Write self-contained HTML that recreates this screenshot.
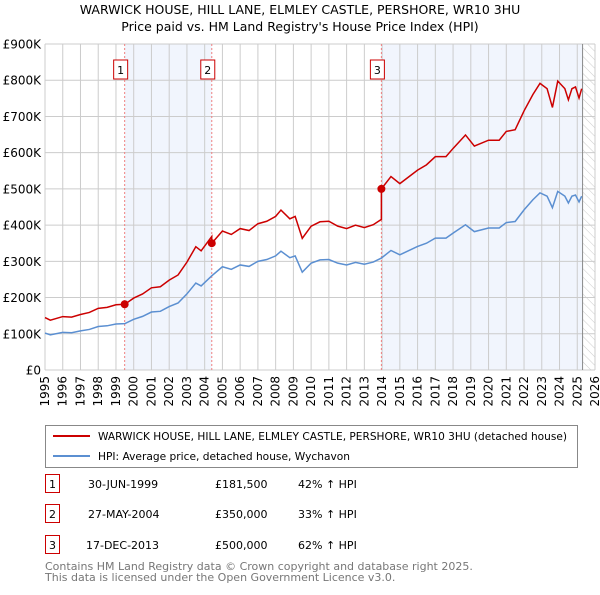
<!DOCTYPE html>
<html><head><meta charset="utf-8"><style>
body{margin:0;background:#fff;font-family:"Liberation Sans","DejaVu Sans",sans-serif;}
svg text{font-family:"DejaVu Sans","Liberation Sans",sans-serif;}
</style></head><body>
<svg id="c" width="600" height="590" viewBox="0 0 600 590" xmlns="http://www.w3.org/2000/svg">
<defs><pattern id="hatch" width="6" height="6" patternUnits="userSpaceOnUse" patternTransform="rotate(-45)"><line x1="0" y1="0" x2="0" y2="6" stroke="#ccc" stroke-width="1"/></pattern></defs>
<text x="300" y="14" text-anchor="middle" font-size="12.5" fill="#000">WARWICK HOUSE, HILL LANE, ELMLEY CASTLE, PERSHORE, WR10 3HU</text>
<text x="300" y="31" text-anchor="middle" font-size="12.5" fill="#000">Price paid vs. HM Land Registry's House Price Index (HPI)</text>
<g id="plot"></g>
<g>
<rect x="45.5" y="425.5" width="532" height="42" fill="#fff" stroke="#888"/>
<line x1="53" y1="436" x2="90" y2="436" stroke="#cc0000" stroke-width="2"/>
<text x="98" y="440" font-size="10.5" textLength="469" lengthAdjust="spacingAndGlyphs">WARWICK HOUSE, HILL LANE, ELMLEY CASTLE, PERSHORE, WR10 3HU (detached house)</text>
<line x1="53" y1="456" x2="90" y2="456" stroke="#5b8fd1" stroke-width="2"/>
<text x="98" y="460" font-size="10.5" textLength="252" lengthAdjust="spacingAndGlyphs">HPI: Average price, detached house, Wychavon</text>
</g>
<g font-size="11">
<rect x="45.5" y="474.5" width="14" height="18" fill="#fff" stroke="#cc0000"/><text x="52.5" y="488" text-anchor="middle">1</text>
<text x="88" y="488">30-JUN-1999</text><text x="215" y="488">£181,500</text><text x="298" y="488">42% ↑ HPI</text>
<rect x="45.5" y="504.5" width="14" height="18" fill="#fff" stroke="#cc0000"/><text x="52.5" y="518" text-anchor="middle">2</text>
<text x="88" y="518">27-MAY-2004</text><text x="215" y="518">£350,000</text><text x="298" y="518">33% ↑ HPI</text>
<rect x="45.5" y="535.5" width="14" height="18" fill="#fff" stroke="#cc0000"/><text x="52.5" y="549" text-anchor="middle">3</text>
<text x="86" y="549">17-DEC-2013</text><text x="215" y="549">£500,000</text><text x="298" y="549">62% ↑ HPI</text>
</g>
<text x="45" y="570" font-size="11" fill="#777">Contains HM Land Registry data © Crown copyright and database right 2025.</text>
<text x="45" y="581" font-size="11" fill="#777">This data is licensed under the Open Government Licence v3.0.</text>
</svg>
<script>
const hpiYears=[1995,1995.3,1996,1996.5,1997,1997.5,1998,1998.5,1999,1999.5,2000,2000.5,2001,2001.5,2002,2002.5,2003,2003.5,2003.8,2004.4,2005,2005.5,2006,2006.5,2007,2007.5,2008,2008.3,2008.8,2009.1,2009.5,2010,2010.5,2011,2011.5,2012,2012.5,2013,2013.5,2013.96,2014.5,2015,2016,2016.5,2017,2017.6,2018,2018.7,2019.2,2020,2020.6,2021,2021.5,2022,2022.5,2022.9,2023.3,2023.6,2023.9,2024.3,2024.5,2024.7,2024.9,2025.1,2025.25];
const hpiValues=[102,97,104,103,108,112,120,122,127,128,140,148,160,162,175,185,210,240,232,260,285,278,290,286,300,305,315,328,310,315,270,295,304,305,295,290,297,292,298,309,330,318,341,350,364,364,378,401,382,392,392,407,410,442,470,489,480,448,493,480,461,480,483,464,480];
const saleYears=[1999.49,2004.40,2013.96];
const salePrices=[181.5,350,500];
const saleLabels=["1","2","3"];
const yTicks=[0,100,200,300,400,500,600,700,800,900];
const yTickLabels=["£0","£100K","£200K","£300K","£400K","£500K","£600K","£700K","£800K","£900K"];
const xTicks=[1995,1996,1997,1998,1999,2000,2001,2002,2003,2004,2005,2006,2007,2008,2009,2010,2011,2012,2013,2014,2015,2016,2017,2018,2019,2020,2021,2022,2023,2024,2025,2026];
const dataEnd=2025.3;

const X0=45,X1=595,Y0=370,Y1=44;
const xs=y=>X0+(y-1995)/(2026-1995)*(X1-X0);
const ys=v=>Y0-v/900*(Y0-Y1);
const NS="http://www.w3.org/2000/svg";
const g=document.getElementById('plot');
function mk(t,a,p){const e=document.createElementNS(NS,t);for(const k in a)e.setAttribute(k,a[k]);(p||g).appendChild(e);return e;}
function hpiAt(t){for(let i=1;i<hpiYears.length;i++){if(t<=hpiYears[i]){const f=(t-hpiYears[i-1])/(hpiYears[i]-hpiYears[i-1]);return hpiValues[i-1]+f*(hpiValues[i]-hpiValues[i-1]);}}return hpiValues[hpiValues.length-1];}

let e=mk('rect',{x:xs(saleYears[0]),y:Y1,width:xs(saleYears[1])-xs(saleYears[0]),height:Y0-Y1,fill:'#eef3fc',opacity:0.8});


e=mk('rect',{x:xs(saleYears[2]),y:Y1,width:xs(dataEnd)-xs(saleYears[2]),height:Y0-Y1,fill:'#eef3fc',opacity:0.8});


e=mk('rect',{x:xs(dataEnd),y:Y1,width:X1-xs(dataEnd),height:Y0-Y1,fill:'url(#hatch)'});


yTicks.forEach((v,i)=>{
 e=mk('line',{x1:X0,x2:X1,y1:ys(v),y2:ys(v),stroke:'#ccc','stroke-width':1});
 
 
 e=mk('text',{x:X0-4,y:ys(v)+4.5,'text-anchor':'end','font-size':12});
 e.textContent=yTickLabels[i];
 
 
});
xTicks.forEach(y=>{
 e=mk('line',{x1:xs(y),x2:xs(y),y1:Y1,y2:Y0,stroke:'#ccc','stroke-width':1});
 
 
 e=mk('text',{x:0,y:0,'text-anchor':'end','font-size':12,transform:`translate(${xs(y)+4},${Y0+6}) rotate(-90)`});
 e.textContent=y;
 
 
});
e=mk('line',{x1:xs(dataEnd),x2:xs(dataEnd),y1:Y1,y2:Y0,stroke:'#888','stroke-width':1});


saleYears.forEach((s,i)=>{
 e=mk('line',{x1:xs(s),x2:xs(s),y1:Y1,y2:Y0,stroke:'#f08080','stroke-width':1,'stroke-dasharray':'2,2'});
 
 
 const bx=xs(s)-4;
 e=mk('rect',{x:bx-7,y:60,width:14,height:19,fill:'#fff',stroke:'#cc0000'});
 
 
 e=mk('text',{x:bx,y:74,'text-anchor':'middle','font-size':11});
 e.textContent=saleLabels[i];
 
 
});
e=mk('polyline',{points:hpiYears.map((y,i)=>xs(y)+','+ys(hpiValues[i])).join(' '),fill:'none',stroke:'#5b8fd1','stroke-width':1.5});


function seg(t){let k=0;for(let i=0;i<saleYears.length;i++)if(t>=saleYears[i])k=i;return k;}
const pts=[];
let ts=hpiYears.slice();
saleYears.forEach(s=>{ts.push(s-0.001);ts.push(s);});
ts.sort((a,b)=>a-b);
ts.forEach(t=>{const k=seg(t);const v=salePrices[k]*hpiAt(t)/hpiAt(saleYears[k]);pts.push(xs(t)+','+ys(v));});
e=mk('polyline',{points:pts.join(' '),fill:'none',stroke:'#cc0000','stroke-width':1.5});


saleYears.forEach((s,i)=>{
 e=mk('circle',{cx:xs(s),cy:ys(salePrices[i]),r:4,fill:'#cc0000'});
 
 
});
</script>
</body></html>
